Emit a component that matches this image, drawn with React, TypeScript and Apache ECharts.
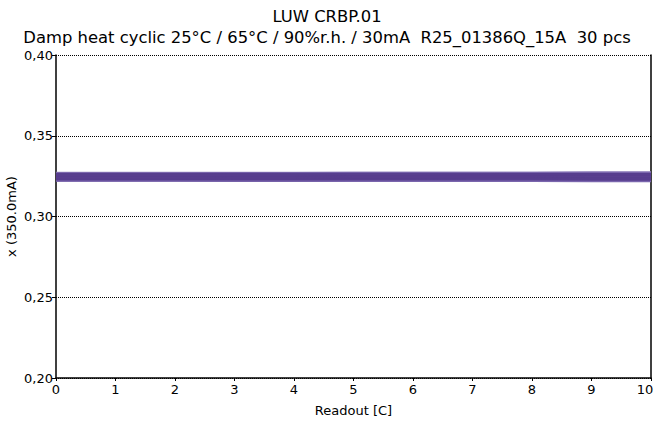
import React, { useEffect, useRef } from "react";
import * as echarts from "echarts";

const titleText = "LUW CRBP.01";
const subtitleText = "Damp heat cyclic 25°C / 65°C / 90%r.h. / 30mA  R25_01386Q_15A  30 pcs";
const xAxisName = "Readout [C]";
const yAxisName = "x (350.0mA)";
const readouts = [0, 1, 2, 3, 4, 5, 6, 7, 8, 9, 10];

// 30 pieces, x chromaticity per readout
const pieces: number[][] = [
  [0.3272, 0.3272, 0.3273, 0.3273, 0.3273, 0.3274, 0.3274, 0.3275, 0.3275, 0.3276, 0.3276],
  [0.3268, 0.3268, 0.3268, 0.3269, 0.3269, 0.3269, 0.3270, 0.3270, 0.3271, 0.3272, 0.3272],
  [0.3266, 0.3266, 0.3266, 0.3266, 0.3267, 0.3266, 0.3266, 0.3266, 0.3265, 0.3265, 0.3265],
  [0.3264, 0.3264, 0.3264, 0.3264, 0.3264, 0.3263, 0.3263, 0.3263, 0.3262, 0.3262, 0.3262],
  [0.3262, 0.3262, 0.3262, 0.3262, 0.3261, 0.3261, 0.3261, 0.3261, 0.3260, 0.3260, 0.3260],
  [0.3260, 0.3260, 0.3260, 0.3259, 0.3259, 0.3259, 0.3259, 0.3258, 0.3258, 0.3258, 0.3258],
  [0.3258, 0.3258, 0.3258, 0.3258, 0.3257, 0.3257, 0.3257, 0.3257, 0.3256, 0.3256, 0.3256],
  [0.3256, 0.3256, 0.3256, 0.3256, 0.3255, 0.3255, 0.3255, 0.3254, 0.3254, 0.3254, 0.3254],
  [0.3254, 0.3254, 0.3254, 0.3254, 0.3254, 0.3253, 0.3253, 0.3253, 0.3252, 0.3252, 0.3252],
  [0.3252, 0.3252, 0.3252, 0.3252, 0.3251, 0.3251, 0.3251, 0.3251, 0.3250, 0.3250, 0.3250],
  [0.3250, 0.3250, 0.3250, 0.3250, 0.3250, 0.3249, 0.3249, 0.3249, 0.3249, 0.3248, 0.3248],
  [0.3248, 0.3248, 0.3248, 0.3248, 0.3248, 0.3247, 0.3247, 0.3247, 0.3247, 0.3246, 0.3246],
  [0.3246, 0.3246, 0.3246, 0.3246, 0.3246, 0.3245, 0.3245, 0.3245, 0.3245, 0.3244, 0.3244],
  [0.3245, 0.3245, 0.3245, 0.3244, 0.3244, 0.3244, 0.3244, 0.3243, 0.3243, 0.3243, 0.3243],
  [0.3243, 0.3243, 0.3243, 0.3243, 0.3243, 0.3242, 0.3242, 0.3242, 0.3242, 0.3241, 0.3241],
  [0.3241, 0.3241, 0.3241, 0.3241, 0.3241, 0.3240, 0.3240, 0.3240, 0.3240, 0.3239, 0.3239],
  [0.3240, 0.3240, 0.3240, 0.3240, 0.3239, 0.3239, 0.3239, 0.3239, 0.3238, 0.3238, 0.3238],
  [0.3238, 0.3238, 0.3238, 0.3238, 0.3238, 0.3237, 0.3237, 0.3237, 0.3237, 0.3236, 0.3236],
  [0.3236, 0.3236, 0.3236, 0.3236, 0.3236, 0.3235, 0.3235, 0.3235, 0.3235, 0.3234, 0.3234],
  [0.3235, 0.3235, 0.3235, 0.3234, 0.3234, 0.3234, 0.3234, 0.3233, 0.3233, 0.3233, 0.3233],
  [0.3233, 0.3233, 0.3233, 0.3233, 0.3233, 0.3232, 0.3232, 0.3232, 0.3232, 0.3231, 0.3231],
  [0.3231, 0.3231, 0.3231, 0.3231, 0.3231, 0.3230, 0.3230, 0.3230, 0.3230, 0.3229, 0.3229],
  [0.3230, 0.3230, 0.3230, 0.3229, 0.3229, 0.3229, 0.3229, 0.3228, 0.3228, 0.3228, 0.3228],
  [0.3228, 0.3228, 0.3228, 0.3228, 0.3228, 0.3227, 0.3227, 0.3227, 0.3227, 0.3226, 0.3226],
  [0.3227, 0.3227, 0.3227, 0.3226, 0.3226, 0.3226, 0.3226, 0.3225, 0.3225, 0.3225, 0.3225],
  [0.3225, 0.3225, 0.3225, 0.3225, 0.3225, 0.3224, 0.3224, 0.3224, 0.3224, 0.3223, 0.3223],
  [0.3224, 0.3224, 0.3224, 0.3223, 0.3223, 0.3223, 0.3223, 0.3222, 0.3222, 0.3222, 0.3222],
  [0.3222, 0.3222, 0.3222, 0.3222, 0.3222, 0.3221, 0.3221, 0.3221, 0.3221, 0.3220, 0.3220],
  [0.3221, 0.3221, 0.3221, 0.3220, 0.3220, 0.3220, 0.3220, 0.3219, 0.3219, 0.3219, 0.3219],
  [0.3219, 0.3219, 0.3219, 0.3219, 0.3219, 0.3218, 0.3218, 0.3218, 0.3218, 0.3217, 0.3217],
];

const lineColors = ["#9a8cc4", "#7a66ad", "#563d8c", "#5a408f", "#553b8b", "#5b4292"];

const FONT = "'DejaVu Sans', sans-serif";
const fmt = (v: number) => v.toFixed(2).replace(".", ",");

export default function App() {
  const ref = useRef<HTMLDivElement>(null);
  useEffect(() => {
    if (!ref.current) return;
    const chart = echarts.init(ref.current, undefined, { renderer: "svg" });
    const series = pieces.map((vals, i) => ({
      type: "line",
      name: "pc" + (i + 1),
      data: readouts.map((r, j) => [r, vals[j]]),
      symbol: "none",
      lineStyle: {
        width: 1.4,
        color: i === 0 ? lineColors[0] : i === 1 ? lineColors[1] : i === pieces.length - 1 ? lineColors[1] : lineColors[2 + (i % 4)],
      },
      z: i === 0 ? 1 : 2,
    }));
    chart.setOption({
      animation: false,
      backgroundColor: "#ffffff",
      textStyle: { fontFamily: FONT },
      title: {
        text: titleText + "\n" + subtitleText,
        left: "center",
        top: 1,
        textStyle: { fontFamily: FONT, fontSize: 16.4, fontWeight: "normal", color: "#000", lineHeight: 21 },
      },
      grid: { left: 56, right: 3, top: 55, bottom: 45, containLabel: false, outerBoundsMode: "none" },
      xAxis: {
        type: "value",
        min: 0,
        max: 10,
        interval: 1,
        name: xAxisName,
        nameLocation: "middle",
        nameGap: 26,
        nameMoveOverlap: false,
        nameTextStyle: { fontFamily: FONT, fontSize: 13, color: "#000" },
        axisLine: { show: true, lineStyle: { color: "#000", width: 1.5 } },
        axisTick: { show: true, length: 3, lineStyle: { color: "#000" } },
        axisLabel: {
          fontFamily: FONT,
          fontSize: 13,
          color: "#000",
          margin: 5,
          formatter: (v: number) => (v === 10 ? "{e|" + v + "}" : String(v)),
          rich: { e: { fontFamily: FONT, fontSize: 13, color: "#000", padding: [0, 12, 0, 0] } },
        },
        splitLine: { show: false },
      },
      yAxis: [
        {
          type: "value",
          min: 0.2,
          max: 0.4,
          interval: 0.05,
          name: yAxisName,
          nameLocation: "middle",
          nameGap: 38,
          nameMoveOverlap: false,
          nameTextStyle: { fontFamily: FONT, fontSize: 13, color: "#000" },
          axisLine: { show: true, lineStyle: { color: "#000", width: 1.5 } },
          axisTick: { show: true, length: 4, lineStyle: { color: "#000" } },
          axisLabel: { fontFamily: FONT, fontSize: 13, color: "#000", margin: 3, formatter: (v: number) => fmt(v) },
          splitLine: { show: true, lineStyle: { color: "#000", type: [1, 1], width: 1 } },
        },
        {
          type: "value",
          min: 0.2,
          max: 0.4,
          interval: 0.05,
          position: "right",
          axisLine: { show: true, lineStyle: { color: "#000", width: 1.5 } },
          axisTick: { show: false },
          axisLabel: { show: false },
          splitLine: { show: false },
        },
      ],
      series,
    });
    return () => chart.dispose();
  }, []);
  return <div ref={ref} style={{ position: "fixed", left: 0, top: 0, width: 654, height: 423 }} />;
}
